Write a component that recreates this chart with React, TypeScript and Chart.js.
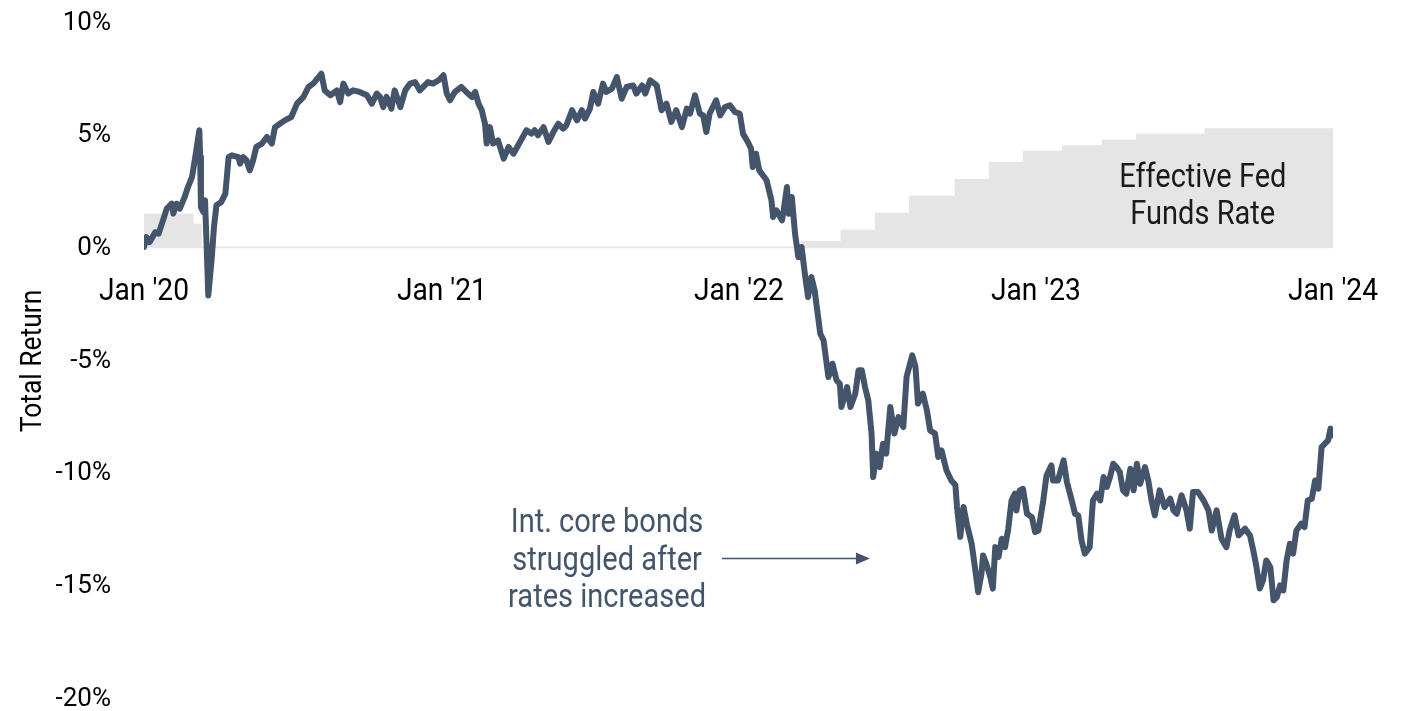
import React, { useEffect, useRef } from "react";
import { Chart, registerables } from "chart.js";

Chart.register(...registerables);

// Days since 1 Jan 2020 and cumulative total return (%) of intermediate core bonds
const returnDays = [
  0, 3, 7, 14, 18, 22, 28, 34, 36, 40,
  44, 50, 54, 59, 63, 68, 69, 70, 73, 75,
  77, 79, 83, 86, 89, 95, 100, 104, 108, 116,
  118, 122, 126, 130, 134, 138, 145, 151, 157, 161,
  167, 173, 181, 188, 196, 202, 208, 218, 222, 229,
  237, 241, 245, 251, 257, 265, 274, 280, 286, 290,
  294, 298, 304, 308, 315, 321, 327, 333, 339, 345,
  349, 355, 362, 368, 372, 376, 382, 390, 396, 403,
  407, 411, 415, 419, 421, 425, 429, 435, 442, 448,
  454, 462, 470, 476, 480, 484, 491, 497, 503, 509,
  515, 519, 526, 532, 538, 542, 548, 552, 558, 564,
  568, 575, 581, 587, 593, 601, 605, 612, 616, 622,
  630, 636, 642, 648, 654, 661, 667, 671, 677, 683,
  687, 691, 695, 703, 708, 714, 720, 726, 732, 736,
  742, 746, 748, 752, 756, 765, 771, 773, 777, 784,
  786, 790, 792, 796, 800, 804, 808, 812, 816, 820,
  824, 831, 835, 841, 846, 851, 855, 857, 864, 868,
  874, 878, 882, 886, 890, 894, 896, 900, 904, 908,
  912, 917, 922, 927, 933, 937, 944, 948, 951, 957,
  962, 966, 972, 976, 980, 986, 992, 997, 999, 1003,
  1007, 1011, 1017, 1021, 1025, 1029, 1031, 1035, 1040, 1043,
  1046, 1050, 1054, 1058, 1062, 1066, 1070, 1072, 1076, 1080,
  1085, 1091, 1095, 1099, 1105, 1109, 1115, 1117, 1123, 1130,
  1134, 1140, 1144, 1148, 1152, 1156, 1162, 1166, 1171, 1175,
  1179, 1183, 1187, 1191, 1195, 1199, 1203, 1207, 1212, 1216,
  1220, 1224, 1230, 1234, 1238, 1242, 1248, 1254, 1261, 1265,
  1269, 1275, 1281, 1285, 1289, 1295, 1302, 1308, 1312, 1318,
  1324, 1330, 1334, 1340, 1345, 1353, 1359, 1363, 1367, 1371,
  1375, 1379, 1384, 1388, 1392, 1396, 1400, 1404, 1408, 1412,
  1416, 1422, 1426, 1430, 1435, 1439, 1443, 1447, 1451, 1455,
  1458, 1460,
];

const returnValues = [
  0.06, 0.5, 0.28, 0.72, 0.65, 1.1, 1.76, 1.98, 1.54, 1.98,
  1.76, 2.28, 2.72, 3.16, 4.05, 5.24, 4.05, 1.83, 1.61, 2.13,
  0.06, -2.09, -0.53, 0.95, 1.91, 2.06, 2.43, 4.05, 4.13, 4.05,
  3.76, 4.05, 3.9, 3.46, 3.9, 4.5, 4.65, 4.94, 4.65, 5.38,
  5.53, 5.68, 5.83, 6.42, 6.72, 7.16, 7.31, 7.75, 7.01, 6.79,
  7.01, 6.49, 7.31, 6.87, 7.01, 6.94, 6.79, 6.42, 6.87, 6.72,
  6.27, 6.72, 6.2, 7.01, 6.27, 7.01, 7.31, 7.38, 7.01, 7.23,
  7.38, 7.31, 7.46, 7.68, 6.87, 6.57, 6.94, 7.16, 6.94, 6.72,
  6.94, 6.42, 6.13, 5.53, 4.65, 5.38, 4.65, 4.79, 3.98, 4.5,
  4.2, 4.72, 5.24, 5.09, 5.24, 5.02, 5.38, 4.72, 5.16, 5.53,
  5.31, 5.46, 6.13, 5.68, 6.13, 5.76, 6.2, 6.94, 6.42, 7.31,
  6.94, 7.09, 7.6, 6.64, 7.16, 7.23, 6.87, 7.23, 6.87, 7.46,
  7.23, 6.13, 6.42, 5.61, 6.13, 5.38, 6.2, 5.98, 6.79, 5.98,
  5.9, 5.16, 5.98, 6.57, 5.9, 6.27, 6.35, 6.05, 5.98, 5.09,
  4.72, 4.42, 3.61, 4.2, 3.46, 3.02, 2.13, 1.39, 1.69, 1.24,
  1.69, 2.72, 1.54, 2.28, 0.65, -0.39, 0.06, -1.12, -2.16, -1.27,
  -1.86, -3.79, -4.08, -5.71, -5.12, -5.86, -6.01, -7.04, -6.16, -7.04,
  -6.45, -5.41, -5.41, -6.16, -6.75, -8.22, -10.15, -9.11, -9.71, -8.67,
  -9.11, -7.04, -8.22, -7.49, -7.93, -5.71, -4.75, -5.27, -6.89, -6.45,
  -7.19, -8.08, -8.22, -9.26, -8.97, -9.85, -10.3, -10.5, -11.48, -12.81,
  -11.48, -12.22, -13.11, -14.15, -15.26, -14.44, -13.63, -14.0, -14.59, -15.1,
  -13.26, -13.7, -12.89, -13.26, -12.44, -11.19, -10.89, -11.63, -10.74, -10.67,
  -11.78, -11.93, -12.59, -12.52, -11.19, -10.08, -9.63, -10.3, -10.3, -9.41,
  -10.37, -11.19, -11.78, -11.85, -12.96, -13.55, -13.26, -11.19, -10.89, -11.19,
  -10.15, -10.59, -10.15, -9.56, -9.71, -9.93, -10.74, -10.89, -9.78, -10.74,
  -9.56, -10.45, -9.71, -10.3, -11.19, -11.85, -10.74, -11.48, -11.11, -11.63,
  -11.78, -10.96, -11.63, -12.44, -10.81, -10.81, -11.19, -11.63, -12.52, -11.63,
  -12.89, -13.26, -12.52, -11.85, -12.74, -12.44, -12.74, -13.4, -14.15, -15.1,
  -14.74, -13.85, -14.15, -15.62, -15.48, -14.96, -15.18, -13.85, -13.11, -13.55,
  -12.52, -12.22, -12.37, -11.19, -11.11, -10.3, -10.67, -8.82, -8.67, -8.52,
  -8.0, -8.3,
];

// Effective Fed Funds Rate (%) — value holds from its day until the next one
const fedDays = [0, 61, 71, 807, 856, 898, 940, 996, 1038, 1080, 1128, 1177, 1219, 1303, 1461];
const fedRates = [1.55, 1.09, 0.08, 0.33, 0.83, 1.58, 2.33, 3.08, 3.83, 4.33, 4.58, 4.83, 5.08, 5.33, 5.33];

const tickDays = [0, 366, 731, 1096, 1461];
const tickLabels = ["Jan '20", "Jan '21", "Jan '22", "Jan '23", "Jan '24"];
const yMin = -20;
const yMax = 10;
const yStep = 5;

const yAxisTitle = "Total Return";
const fedLabelLines = ["Effective Fed", "Funds Rate"];
const fedLabelAnchor = { day: 1301, value: 2.71 };
const noteLines = ["Int. core bonds", "struggled after", "rates increased"];
const noteAnchor = { day: 569, value: -12.6 };
const arrowFrom = { day: 710, value: -13.76 };
const arrowTo = { day: 892, value: -13.76 };

const LINE_COLOR = "#44546a";
const FED_COLOR = "#e5e5e5";
const CONDENSED = 0.88;

function drawCondensed(
  ctx: CanvasRenderingContext2D,
  text: string,
  x: number,
  y: number,
  size: number,
  color: string,
  rotate = 0
) {
  ctx.save();
  ctx.translate(x, y);
  if (rotate) ctx.rotate(rotate);
  ctx.scale(CONDENSED, 1);
  ctx.font = `${size}px Roboto`;
  ctx.fillStyle = color;
  ctx.textAlign = "center";
  ctx.textBaseline = "alphabetic";
  ctx.fillText(text, 0, 0);
  ctx.restore();
}

const overlayPlugin = {
  id: "overlay",
  afterDraw(chart: any) {
    const ctx: CanvasRenderingContext2D = chart.ctx;
    const xs = chart.scales.x;
    const ys = chart.scales.y;
    const zeroY = ys.getPixelForValue(0);

    // x tick labels (condensed), positioned by the x scale
    xs.ticks.forEach((t: any) => {
      const idx = tickDays.indexOf(t.value);
      if (idx < 0) return;
      drawCondensed(ctx, tickLabels[idx], xs.getPixelForValue(t.value), zeroY + 52, 32, "#000");
    });

    // y axis title
    const midY = (chart.chartArea.top + chart.chartArea.bottom) / 2;
    drawCondensed(ctx, yAxisTitle, 41, midY, 30, "#000", -Math.PI / 2);

    // fed label
    const fx = xs.getPixelForValue(fedLabelAnchor.day);
    const fy = ys.getPixelForValue(fedLabelAnchor.value);
    fedLabelLines.forEach((l, i) => drawCondensed(ctx, l, fx, fy + i * 37, 33, "#1a1a1a"));

    // note
    const nx = xs.getPixelForValue(noteAnchor.day);
    const ny = ys.getPixelForValue(noteAnchor.value);
    noteLines.forEach((l, i) => drawCondensed(ctx, l, nx, ny + i * 37.5, 33, LINE_COLOR));

    // arrow
    const ax1 = xs.getPixelForValue(arrowFrom.day);
    const ay1 = ys.getPixelForValue(arrowFrom.value);
    const ax2 = xs.getPixelForValue(arrowTo.day);
    const ay2 = ys.getPixelForValue(arrowTo.value);
    ctx.save();
    ctx.strokeStyle = LINE_COLOR;
    ctx.fillStyle = LINE_COLOR;
    ctx.lineWidth = 1.5;
    ctx.beginPath();
    ctx.moveTo(ax1, ay1);
    ctx.lineTo(ax2 - 12, ay2);
    ctx.stroke();
    ctx.beginPath();
    ctx.moveTo(ax2, ay2);
    ctx.lineTo(ax2 - 14, ay2 - 6);
    ctx.lineTo(ax2 - 14, ay2 + 6);
    ctx.closePath();
    ctx.fill();
    ctx.restore();
  },
};

export default function App() {
  const canvasRef = useRef<HTMLCanvasElement | null>(null);

  useEffect(() => {
    if (!canvasRef.current) return;
    const returnPoints = returnDays.map((d, i) => ({ x: d, y: returnValues[i] }));
    const fedPoints = fedDays.map((d, i) => ({ x: d, y: fedRates[i] }));

    const chart = new Chart(canvasRef.current, {
      type: "line",
      data: {
        datasets: [
          {
            label: "Intermediate core bonds",
            data: returnPoints,
            borderColor: LINE_COLOR,
            borderWidth: 6,
            pointRadius: 0,
            tension: 0,
            borderJoinStyle: "round",
            borderCapStyle: "round",
            fill: false,
          },
          {
            label: "Effective Fed Funds Rate",
            data: fedPoints,
            stepped: true,
            borderWidth: 0,
            borderColor: "rgba(0,0,0,0)",
            backgroundColor: FED_COLOR,
            pointRadius: 0,
            fill: "origin",
          },
        ],
      },
      plugins: [overlayPlugin],
      options: {
        animation: false,
        responsive: true,
        maintainAspectRatio: false,
        layout: { padding: { top: 23, bottom: 12, left: 0, right: 74 } },
        plugins: {
          legend: { display: false },
          tooltip: { enabled: false },
        },
        scales: {
          x: {
            type: "linear",
            position: { y: 0 },
            min: 0,
            max: 1461,
            grid: { display: false, drawTicks: false },
            border: { display: false },
            ticks: { display: false },
            afterBuildTicks: (scale: any) => {
              scale.ticks = tickDays.map((v) => ({ value: v }));
            },
          },
          y: {
            type: "linear",
            min: yMin,
            max: yMax,
            grid: { display: false, drawTicks: false },
            border: { display: false },
            ticks: {
              stepSize: yStep,
              padding: 33,
              color: "#000",
              font: { family: "Roboto", size: 26 },
              callback: (v: any) => `${v}%`,
            },
            afterFit: (scale: any) => {
              scale.width = 144;
              scale.paddingTop = 0;
              scale.paddingBottom = 0;
            },
          },
        },
      },
    });
    return () => chart.destroy();
  }, []);

  return (
    <div style={{ position: "absolute", left: 0, top: 0, width: 1407, height: 711 }}>
      <canvas ref={canvasRef} />
    </div>
  );
}
